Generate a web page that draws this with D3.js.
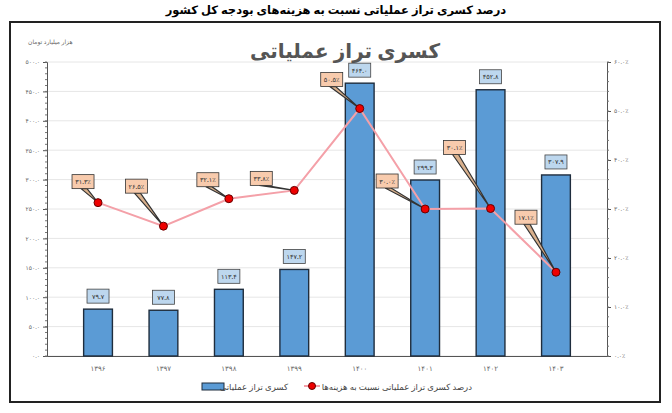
<!DOCTYPE html><html><head><meta charset="utf-8">
<script src="https://cdn.jsdelivr.net/npm/d3@7"></script>
<style>body{margin:0;background:#fff}text{font-family:"Noto Sans","DejaVu Sans",sans-serif}</style></head><body>
<svg id="c" width="672" height="413"></svg>
<script>
const years=["۱۳۹۶","۱۳۹۷","۱۳۹۸","۱۳۹۹","۱۴۰۰","۱۴۰۱","۱۴۰۲","۱۴۰۳"];
const deficit=[79.7,77.8,113.4,147.2,464.0,299.3,452.8,307.9];
const percent=[31.3,26.5,32.1,33.8,50.5,30.0,30.1,17.1];
const leftTicks=[0,50,100,150,200,250,300,350,400,450,500];
const rightTicks=[0,10,20,30,40,50,60];
// layout: callout box offsets (px) relative to points
const calloutOffset=[[-15,-21],[-27,-40],[-21,-19],[-33,-12],[-28,-29],[-38,-28],[-36,-61],[-30,-55]];

const fa=s=>String(s).replace(/\d/g,d=>"۰۱۲۳۴۵۶۷۸۹"[d]);
const svg=d3.select("#c");
svg.append("text").attr("x",336).attr("y",14).attr("text-anchor","middle").attr("font-size",11.5).attr("font-weight","bold").text("درصد کسری تراز عملیاتی نسبت به هزینه‌های بودجه کل کشور");
svg.append("rect").attr("x",10).attr("y",22).attr("width",650).attr("height",380).attr("fill","#fff").attr("stroke","#222").attr("stroke-width",2);
const L=47,R=607,T=62,B=356;
const x=d3.scaleBand().domain(years).range([L,R]).padding(0.56);
const y=d3.scaleLinear().domain([0,500]).range([B,T]);
const y2=d3.scaleLinear().domain([0,60]).range([B,T]);
svg.append("g").selectAll("line").data(leftTicks).join("line").attr("x1",L).attr("x2",R).attr("y1",d=>y(d)).attr("y2",d=>y(d)).attr("stroke","#e6e6e6");
const ga=svg.append("g").attr("transform",`translate(${L},0)`).call(d3.axisLeft(y).tickValues(leftTicks).tickFormat(d=>fa(d.toFixed(1))).tickSize(4));
const gb=svg.append("g").attr("transform",`translate(${R},0)`).call(d3.axisRight(y2).tickValues(rightTicks).tickFormat(d=>fa(d.toFixed(1))+"٪").tickSize(4));
const gx=svg.append("g").attr("transform",`translate(0,${B})`).call(d3.axisBottom(x).tickSize(0).tickPadding(10));
[ga,gb,gx].forEach(g=>{g.selectAll("text").attr("font-size",6).attr("fill","#666");g.select(".domain").attr("stroke","#555");g.selectAll(".tick line").attr("stroke","#555")});
gx.selectAll("text").attr("font-size",7);
svg.append("g").selectAll("line").data(d3.range(0,501,10)).join("line").attr("x1",L-2).attr("x2",L).attr("y1",d=>y(d)).attr("y2",d=>y(d)).attr("stroke","#777");
svg.append("g").selectAll("line").data(d3.range(0,61,2)).join("line").attr("x1",R).attr("x2",R+2).attr("y1",d=>y2(d)).attr("y2",d=>y2(d)).attr("stroke","#777");
svg.append("text").attr("x",28).attr("y",44).attr("font-size",6).attr("fill","#666").text("هزار میلیارد تومان");
svg.append("text").attr("x",345).attr("y",58).attr("text-anchor","middle").attr("font-size",20).attr("font-weight","bold").attr("fill","#555").text("کسری تراز عملیاتی");
svg.append("g").selectAll("rect").data(deficit).join("rect").attr("x",(d,i)=>x(years[i])).attr("width",x.bandwidth()).attr("y",d=>y(d)).attr("height",d=>B-y(d)).attr("fill","#5b9bd5").attr("stroke","#1f2d3d").attr("stroke-width",1.4);
const bl=svg.append("g").selectAll("g").data(deficit).join("g").attr("transform",(d,i)=>`translate(${x(years[i])+x.bandwidth()/2},${y(d)-13})`);
bl.append("rect").attr("x",-11).attr("y",-7).attr("width",22).attr("height",14).attr("fill","#bdd7ee").attr("stroke","#444").attr("stroke-width",0.8);
bl.append("text").attr("text-anchor","middle").attr("dy",2.5).attr("font-size",6.5).attr("fill","#333").text(d=>fa(d.toFixed(1)));
const px=i=>x(years[i])+x.bandwidth()/2;
svg.append("path").datum(percent).attr("d",d3.line().x((d,i)=>px(i)).y(d=>y2(d))).attr("fill","none").attr("stroke","#f4a0a8").attr("stroke-width",2);
percent.forEach((d,i)=>{const X=px(i),Y=y2(d),bx=X+calloutOffset[i][0],by=Y+calloutOffset[i][1];
 svg.append("path").attr("d",`M${bx-2},${by+7}L${X},${Y}L${bx+4},${by+7}Z`).attr("fill","#d9b08c").attr("stroke","#333").attr("stroke-width",1.2);
 svg.append("rect").attr("x",bx-11).attr("y",by-7).attr("width",22).attr("height",14).attr("fill","#f8cbad").attr("stroke","#333").attr("stroke-width",0.8);
 svg.append("text").attr("x",bx).attr("y",by+2.5).attr("text-anchor","middle").attr("font-size",6.5).attr("fill","#333").text(fa(d.toFixed(1))+"٪");});
svg.append("g").selectAll("circle").data(percent).join("circle").attr("cx",(d,i)=>px(i)).attr("cy",d=>y2(d)).attr("r",4).attr("fill","#e00").attr("stroke","#600");
svg.append("rect").attr("x",202).attr("y",383).attr("width",22).attr("height",7).attr("fill","#5b9bd5").attr("stroke","#1f2d3d");
svg.append("text").attr("x",288).attr("y",390).attr("text-anchor","end").attr("font-size",8.5).attr("fill","#444").text("کسری تراز عملیاتی");
svg.append("line").attr("x1",304).attr("x2",320).attr("y1",386).attr("y2",386).attr("stroke","#f4a0a8").attr("stroke-width",2);
svg.append("circle").attr("cx",312).attr("cy",386).attr("r",3.5).attr("fill","#e00").attr("stroke","#600");
svg.append("text").attr("x",472).attr("y",390).attr("text-anchor","end").attr("font-size",8.5).attr("fill","#444").text("درصد کسری تراز عملیاتی نسبت به هزینه‌ها");
</script></body></html>
